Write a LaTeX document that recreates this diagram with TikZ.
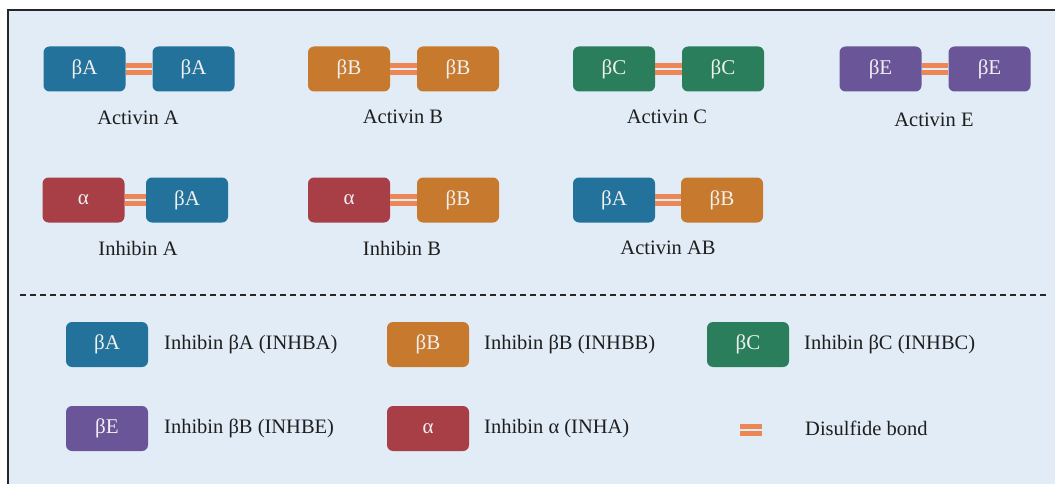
\documentclass[tikz,border=0pt]{standalone}
\usepackage{fontspec}
\setmainfont{Liberation Serif}
\definecolor{bgc}{HTML}{E2ECF6}
\definecolor{cA}{HTML}{23729B}
\definecolor{cB}{HTML}{C77A2E}
\definecolor{cC}{HTML}{2A7E5C}
\definecolor{cE}{HTML}{6A5599}
\definecolor{cAl}{HTML}{A83F47}
\definecolor{bond}{HTML}{EC8654}
\definecolor{txt}{HTML}{1E1E1E}
\tikzset{
  sub/.style={rounded corners=6pt, minimum width=82pt, minimum height=45pt, inner sep=0pt,
    text=white!94!black, font=\fontsize{21}{22}\selectfont},
  lbl/.style={text=txt, font=\fontsize{20.5}{22}\selectfont, inner sep=0pt},
  leg/.style={text=txt, font=\fontsize{20.5}{22}\selectfont, inner sep=0pt, anchor=west},
  bondline/.style={draw=bond, line width=4.6pt},
}
\newcommand{\bondpair}[2]{%
  \draw[bondline] ([yshift=3.5pt]#1.east) -- ([yshift=3.5pt]#2.west);
  \draw[bondline] ([yshift=-3.5pt]#1.east) -- ([yshift=-3.5pt]#2.west);}
\begin{document}
\begin{tikzpicture}[x=1pt,y=-1pt]
\useasboundingbox (0,0) rectangle (1055,484);
\fill[white] (0,0) rectangle (1055,484);
\fill[bgc] (8,10.5) rectangle (1055,484);
\draw[line width=2pt, black!85] (8,484) -- (8,10.5) -- (1055,10.5);
% Row 1
\node[sub, fill=cA] (a1) at (84.5,69) {βA};
\node[sub, fill=cA] (a2) at (193.5,69) {βA};
\bondpair{a1}{a2}
\node[lbl] (la) at (138,118) {Activin A};
\node[sub, fill=cB] (b1) at (349,69) {βB};
\node[sub, fill=cB] (b2) at (458,69) {βB};
\bondpair{b1}{b2}
\node[lbl] (lb) at (403,117) {Activin B};
\node[sub, fill=cC] (c1) at (614,69) {βC};
\node[sub, fill=cC] (c2) at (723,69) {βC};
\bondpair{c1}{c2}
\node[lbl] (lc) at (667,117) {Activin C};
\node[sub, fill=cE] (e1) at (880.5,69) {βE};
\node[sub, fill=cE] (e2) at (989.5,69) {βE};
\bondpair{e1}{e2}
\node[lbl] (le) at (934,120) {Activin E};
% Row 2
\node[sub, fill=cAl] (ia1) at (83.5,200) {α};
\node[sub, fill=cA] (ia2) at (187,200) {βA};
\bondpair{ia1}{ia2}
\node[lbl] (lia) at (138,248) {Inhibin A};
\node[sub, fill=cAl] (ib1) at (349,200) {α};
\node[sub, fill=cB] (ib2) at (458,200) {βB};
\bondpair{ib1}{ib2}
\node[lbl] (lib) at (402,248) {Inhibin B};
\node[sub, fill=cA] (ab1) at (614,200) {βA};
\node[sub, fill=cB] (ab2) at (722,200) {βB};
\bondpair{ab1}{ab2}
\node[lbl] (lab) at (668,248) {Activin AB};
% separator
\draw[line width=2.4pt, black!85, dash pattern=on 6pt off 4pt] (20,295) -- (1048,295);
% Legend
\node[sub, fill=cA] (g1) at (107,344.5) {βA};
\node[leg] (t1) at (164,344.5) {Inhibin βA (INHBA)};
\node[sub, fill=cB] (g2) at (428,344.5) {βB};
\node[leg] (t2) at (484,344.5) {Inhibin βB (INHBB)};
\node[sub, fill=cC] (g3) at (748,344.5) {βC};
\node[leg] (t3) at (804,344.5) {Inhibin βC (INHBC)};
\node[sub, fill=cE] (g4) at (107,428.5) {βE};
\node[leg] (t4) at (164,428.5) {Inhibin βB (INHBE)};
\node[sub, fill=cAl] (g5) at (428,428.5) {α};
\node[leg] (t5) at (484,428.5) {Inhibin α (INHA)};
\coordinate (d1) at (740,430);
\coordinate (d2) at (762,430);
\draw[bondline] ([yshift=3.5pt]d1) -- ([yshift=3.5pt]d2);
\draw[bondline] ([yshift=-3.5pt]d1) -- ([yshift=-3.5pt]d2);
\node[leg] (t6) at (805,428.5) {Disulfide bond};
\end{tikzpicture}
\end{document}
